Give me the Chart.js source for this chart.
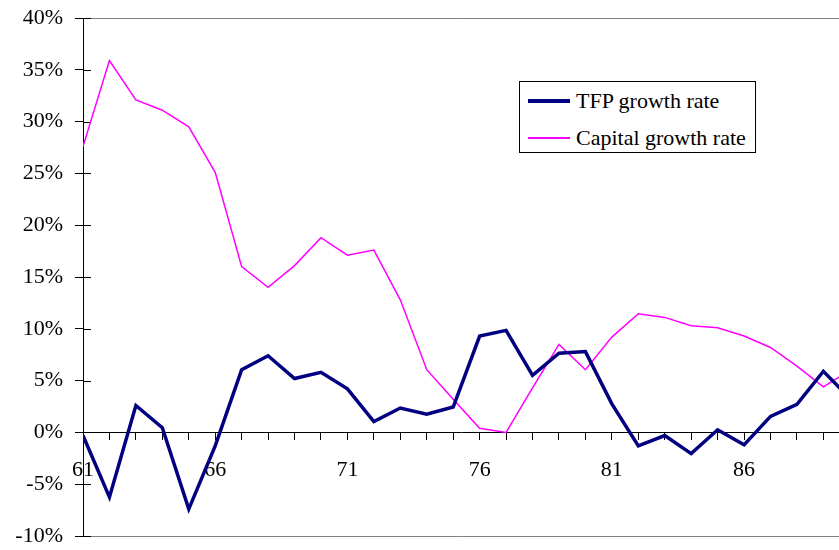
<!DOCTYPE html>
<html>
<head>
<meta charset="utf-8">
<script src="https://cdn.jsdelivr.net/npm/chart.js@4.4.1/dist/chart.umd.min.js"></script>
<style>
  html, body { margin: 0; padding: 0; background: #fff; overflow: hidden; }
  #wrap { position: relative; width: 839px; height: 550px; }
  #legend { position: absolute; left: 519px; top: 81px; width: 237px; height: 72px;
    border: 1px solid #000; background: #fff; box-sizing: border-box;
    font-family: 'Liberation Serif', 'Times New Roman', serif; font-size: 22px; color: #000; }
  .item { position: absolute; left: 8px; height: 26px; display: flex; align-items: center; white-space: nowrap; }
  .swatch { display: inline-block; width: 42px; margin-right: 6px; }
</style>
</head>
<body>
<div id="wrap">
  <canvas id="c" width="839" height="550"></canvas>
  <div id="legend"></div>
</div>
<script>
// ---- data ----
const years = [61,62,63,64,65,66,67,68,69,70,71,72,73,74,75,76,77,78,79,80,81,82,83,84,85,86,87,88,89,90];
const tfpGrowth = [-0.3,-6.25,2.6,0.45,-7.4,-1.3,6.05,7.4,5.2,5.8,4.2,1.05,2.35,1.75,2.45,9.3,9.85,5.5,7.65,7.8,2.75,-1.3,-0.3,-2.05,0.25,-1.2,1.55,2.7,5.9,3.3];
const capitalGrowth = [27.6,35.9,32.1,31.1,29.5,25.1,16.0,14.0,16.1,18.8,17.1,17.6,12.8,6.05,3.2,0.4,0.0,4.3,8.5,6.05,9.2,11.45,11.1,10.3,10.1,9.3,8.2,6.4,4.4,6.0];
const seriesNames = ['TFP growth rate', 'Capital growth rate'];
const xTickYears = [61,66,71,76,81,86];
const yTicks = [-10,-5,0,5,10,15,20,25,30,35,40];

Chart.defaults.font.family = "'Liberation Serif', 'Times New Roman', serif";
Chart.defaults.font.size = 22;
Chart.defaults.color = '#000';

const innerTicks = {
  id: 'innerTicks',
  beforeDatasetsDraw(chart) {
    const y = chart.scales.y, ctx = chart.ctx;
    ctx.save();
    ctx.strokeStyle = '#000';
    ctx.lineWidth = 1;
    y.ticks.forEach(t => {
      const py = Math.round(y.getPixelForValue(t.value)) + 0.5;
      ctx.beginPath();
      ctx.moveTo(chart.chartArea.left, py);
      ctx.lineTo(chart.chartArea.left + 8, py);
      ctx.stroke();
    });
    ctx.restore();
  }
};

const chart = new Chart(document.getElementById('c'), {
  type: 'line',
  data: {
    datasets: [
      { label: seriesNames[0], data: years.map((x, i) => ({ x, y: tfpGrowth[i] })),
        borderColor: '#000080', backgroundColor: '#000080', borderWidth: 3.5, pointRadius: 0, tension: 0 },
      { label: seriesNames[1], data: years.map((x, i) => ({ x, y: capitalGrowth[i] })),
        borderColor: '#FF00FF', backgroundColor: '#FF00FF', borderWidth: 1.5, pointRadius: 0, tension: 0 }
    ]
  },
  options: {
    responsive: false,
    animation: false,
    layout: { padding: { top: 18, bottom: 14, left: 0, right: 0 } },
    plugins: { legend: { display: false }, tooltip: { enabled: false } },
    scales: {
      y: {
        type: 'linear', position: 'left', min: -10, max: 40,
        afterFit(s) { s.width = 83; s.paddingTop = 0; s.paddingBottom = 0; },
        afterBuildTicks(s) { s.ticks = yTicks.map(v => ({ value: v })); },
        ticks: { padding: 12, callback: v => v + '%' },
        grid: {
          color: c => (c.tick && (c.tick.value === 40 || c.tick.value === -10)) ? '#808080' : 'rgba(0,0,0,0)',
          tickColor: '#000', tickLength: 8, lineWidth: 1
        },
        border: { display: true, color: '#000', width: 1 }
      },
      x: {
        type: 'linear', position: { y: 0 }, min: 61, max: 89.59,
        afterFit(s) { s.paddingLeft = 0; s.paddingRight = 0; s.paddingTop = 0; s.paddingBottom = 0; },
        afterBuildTicks(s) { s.ticks = years.filter(v => v <= 89).map(v => ({ value: v })); },
        ticks: { autoSkip: false, maxRotation: 0, padding: 18,
          callback: v => xTickYears.includes(v) ? String(v) : '' },
        grid: { drawOnChartArea: false, tickColor: '#000', tickLength: 7 },
        border: { display: true, color: '#000', width: 1 }
      }
    }
  },
  plugins: [innerTicks]
});

// HTML legend built from datasets
const leg = document.getElementById('legend');
chart.data.datasets.forEach((ds, i) => {
  const it = document.createElement('div');
  it.className = 'item';
  it.style.top = (i === 0 ? 6 : 43) + 'px';
  const sw = document.createElement('span');
  sw.className = 'swatch';
  sw.style.height = ds.borderWidth + 'px';
  sw.style.background = ds.borderColor;
  const tx = document.createElement('span');
  tx.textContent = ds.label;
  it.appendChild(sw); it.appendChild(tx);
  leg.appendChild(it);
});
</script>
</body>
</html>
